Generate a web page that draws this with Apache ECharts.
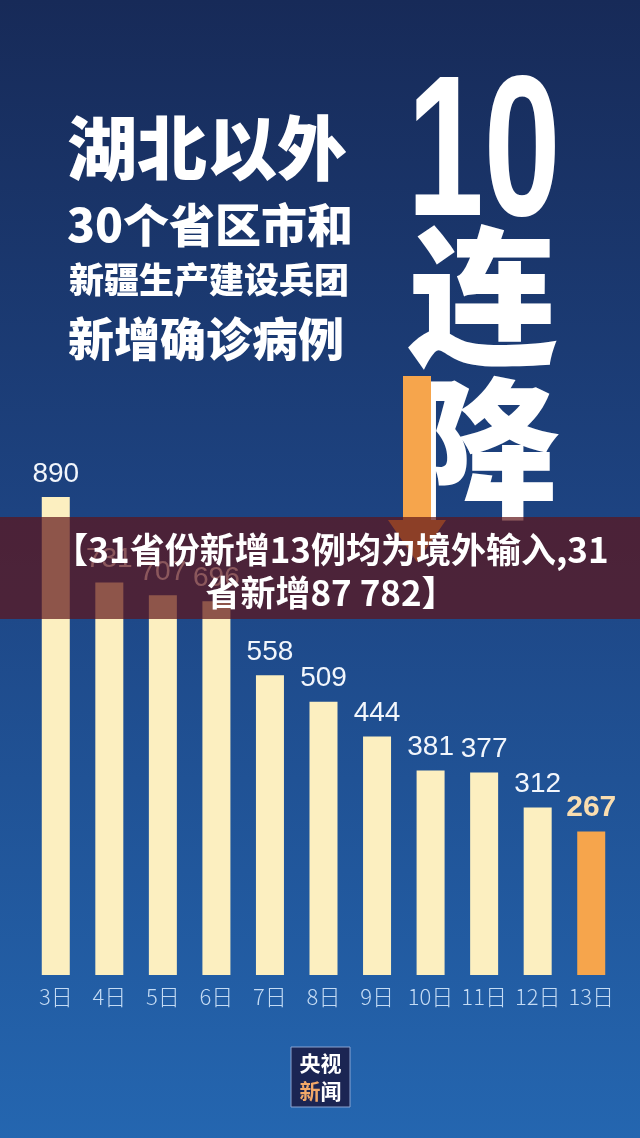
<!DOCTYPE html>
<html>
<head>
<meta charset="utf-8">
<script src="https://cdn.jsdelivr.net/npm/echarts@6/dist/echarts.min.js"></script>
<style>
html,body{margin:0;padding:0;width:640px;height:1138px;overflow:hidden;}
#chart{width:640px;height:1138px;}
</style>
</head>
<body>
<div id="chart"></div>
<script>
// Data
const categories = ['3日','4日','5日','6日','7日','8日','9日','10日','11日','12日','13日'];
const values = [890, 731, 707, 696, 558, 509, 444, 381, 377, 312, 267];
const titleLines = ['湖北以外', '30个省区市和', '新疆生产建设兵团', '新增确诊病例'];
const bigText = ['10', '连', '降'];
const bannerText = '【31省份新增13例均为境外输入,31\n省新增87 782】';
const logoText = ['央视', '新', '闻'];

const CJK = '"Noto Sans CJK SC", sans-serif';
const NUM = '"Liberation Sans", Arial, sans-serif';
const lastIdx = values.length - 1;

const chart = echarts.init(document.getElementById('chart'), null, {renderer: 'canvas'});

const seriesData = values.map((v, i) => {
  if (i === lastIdx) {
    return {
      value: v,
      itemStyle: {color: '#f6a54c'},
      label: {color: '#f9ddb0', fontWeight: 'bold', fontSize: 30}
    };
  }
  return {value: v};
});

const option = {
  backgroundColor: {
    type: 'linear', x: 0, y: 0, x2: 0, y2: 1,
    colorStops: [
      {offset: 0, color: '#172a58'},
      {offset: 0.45, color: '#1d4381'},
      {offset: 1, color: '#2466b0'}
    ]
  },
  animation: false,
  grid: {left: 29, right: 22, top: 438, bottom: 163, containLabel: false},
  xAxis: {
    type: 'category',
    data: categories,
    axisLine: {show: false},
    axisTick: {show: false},
    axisLabel: {
      interval: 0, hideOverlap: false,
      color: '#c4dbf4', fontSize: 22, fontFamily: CJK, fontWeight: 300, margin: 11
    }
  },
  yAxis: {
    type: 'value', min: 0, max: 1000, show: false, splitLine: {show: false}
  },
  series: [{
    type: 'bar',
    data: seriesData,
    barWidth: 28,
    itemStyle: {color: '#fcefc0'},
    label: {
      show: true, position: 'top', distance: 9,
      color: '#f2f6fc', fontSize: 28, fontFamily: NUM
    },
    z: 2
  }],
  graphic: [
    // Title lines
    {type: 'text', x: 67, y: 148, z: 10, style: {text: titleLines[0], font: '900 70px ' + CJK, fill: '#ffffff', textVerticalAlign: 'middle'}},
    {type: 'text', x: 67, y: 225, z: 10, style: {text: titleLines[1], font: '900 46px ' + CJK, fill: '#ffffff', textVerticalAlign: 'middle'}},
    {type: 'text', x: 69, y: 280, z: 10, style: {text: titleLines[2], font: '900 35px ' + CJK, fill: '#ffffff', textVerticalAlign: 'middle'}},
    {type: 'text', x: 68, y: 339, z: 10, style: {text: titleLines[3], font: '900 46px ' + CJK, fill: '#ffffff', textVerticalAlign: 'middle'}},
    // Big vertical text
    {type: 'text', x: 407, y: 160, scaleX: 0.69, z: 10, style: {text: bigText[0], font: 'bold 200px ' + NUM, fill: '#ffffff', textVerticalAlign: 'middle'}},
    {type: 'text', x: 408, y: 296, z: 10, style: {text: bigText[1], font: '900 150px ' + CJK, fill: '#ffffff', textVerticalAlign: 'middle'}},
    {type: 'text', x: 408, y: 448, z: 10, style: {text: bigText[2], font: '900 152px ' + CJK, fill: '#ffffff', textVerticalAlign: 'middle'}},
    // Orange arrow
    {type: 'polygon', z: 11, shape: {points: [[403,376],[431,376],[431,520],[446,520],[417,562],[388,520],[403,520]]}, style: {fill: '#f6a54c'}},
    // Banner
    {type: 'rect', z: 50, shape: {x: 0, y: 517, width: 640, height: 102}, style: {fill: 'rgba(96,20,24,0.70)'}},
    {type: 'text', x: 331, y: 571, z: 51, style: {text: bannerText, font: 'bold 35px ' + CJK, fill: '#ffffff', textAlign: 'center', textVerticalAlign: 'middle', lineHeight: 43}},
    // Logo
    {type: 'rect', z: 20, shape: {x: 291, y: 1047, width: 59, height: 60}, style: {fill: '#1b2553', stroke: '#8aa4d2', lineWidth: 1}},
    {type: 'text', x: 320.5, y: 1063, z: 21, style: {text: logoText[0], font: 'bold 21px ' + CJK, fill: '#ffffff', textAlign: 'center', textVerticalAlign: 'middle'}},
    {type: 'text', x: 310, y: 1091, z: 21, style: {text: logoText[1], font: 'bold 21px ' + CJK, fill: '#f2a868', textAlign: 'center', textVerticalAlign: 'middle'}},
    {type: 'text', x: 331, y: 1091, z: 21, style: {text: logoText[2], font: 'bold 21px ' + CJK, fill: '#ffffff', textAlign: 'center', textVerticalAlign: 'middle'}}
  ]
};

chart.setOption(option);
</script>
</body>
</html>
